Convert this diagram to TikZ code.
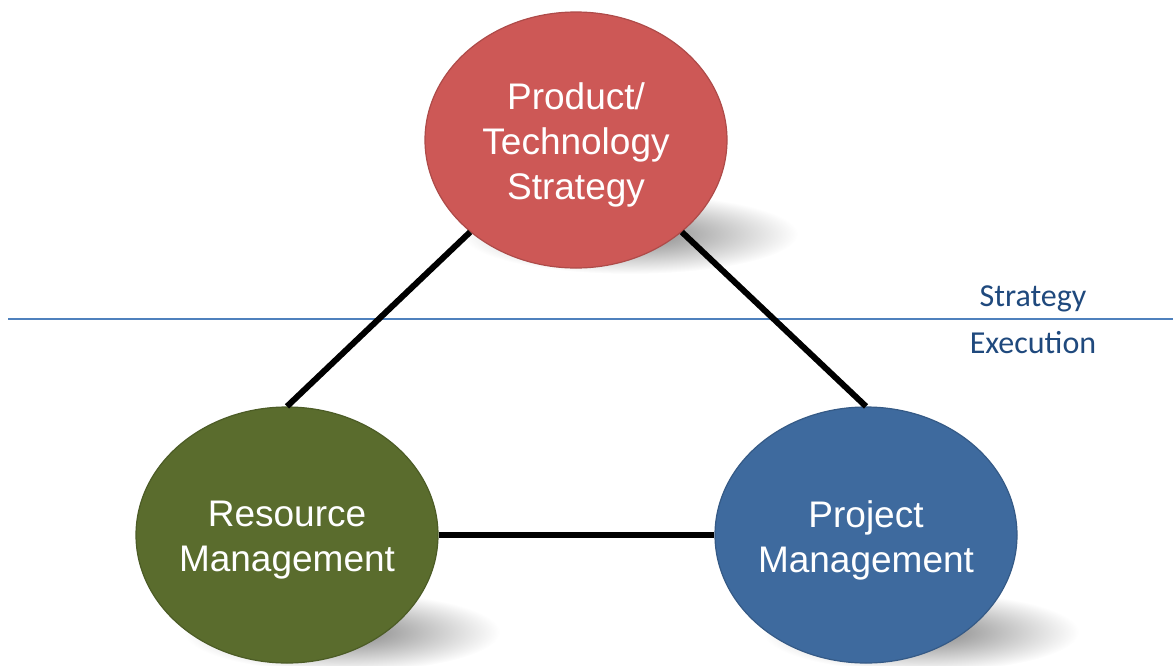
\documentclass[tikz,border=0pt]{standalone}
\usepackage{fontspec}
\setmainfont{Liberation Sans}
\newfontfamily\calibrifont{Carlito}
\usetikzlibrary{shapes.geometric}
\definecolor{prodred}{RGB}{205,88,86}
\definecolor{resgreen}{RGB}{90,108,45}
\definecolor{projblue}{RGB}{62,106,158}
\definecolor{divblue}{RGB}{79,129,189}
\definecolor{labelblue}{RGB}{31,73,125}

\begin{document}
\begin{tikzpicture}[x=1pt,y=-1pt,
  bubble/.style={ellipse,minimum width=302pt,minimum height=256pt,inner sep=0pt,line width=1.2pt},
  bubbletext/.style={text=white,align=center,yshift=-5pt,font=\fontsize{37}{45}\selectfont},
  shadowblob/.style={inner color=black!50,outer color=white},
  link/.style={line width=6pt,black},
  zone/.style={text=labelblue,font=\calibrifont\fontsize{32}{36}\selectfont,anchor=base}]
\useasboundingbox (0,0) rectangle (1173,665);
\shade[shadowblob] (630,234) ellipse [x radius=168, y radius=40];
\shade[shadowblob] (342,632) ellipse [x radius=158, y radius=40];
\shade[shadowblob] (921,632) ellipse [x radius=158, y radius=40];
\coordinate (divL) at (8,319);
\coordinate (divR) at (1173,319);
\draw [divblue,line width=2pt] (divL) -- (divR);
\node [bubble,fill=prodred,draw=prodred!85!black,
  label={[bubbletext]center:Product/\\Technology\\Strategy}] (product) at (576,140) {};
\node [bubble,fill=resgreen,draw=resgreen!85!black,
  label={[bubbletext]center:Resource\\Management}] (resource) at (287,535) {};
\node [bubble,fill=projblue,draw=projblue!85!black,
  label={[bubbletext]center:Project\\Management}] (project) at (866,535) {};
\draw [link] (product.-139) -- (resource.north);
\draw [link] (product.-41) -- (project.north);
\draw [link] (resource.east) -- (project.west);
\node [zone] (strat) at (1033,306) {Strategy};
\node [zone] (exec) at (1033,353) {Execution};
\end{tikzpicture}
\end{document}
